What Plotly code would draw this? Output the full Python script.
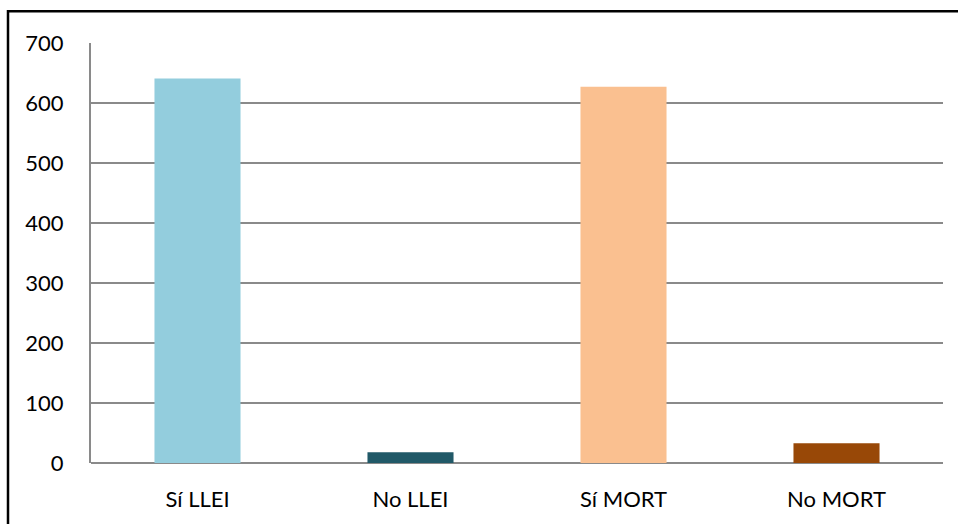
import plotly.graph_objects as go

categories = ["Sí LLEI", "No LLEI", "Sí MORT", "No MORT"]
values = [641, 18, 627, 33]
colors = ["#93CDDD", "#215968", "#FAC090", "#984807"]

y_ticks = [0, 100, 200, 300, 400, 500, 600, 700]

fig = go.Figure(
    go.Bar(
        x=categories,
        y=values,
        marker=dict(color=colors, line=dict(width=0)),
        width=0.404,
        hoverinfo="x+y",
    )
)

grid_color = "#8a8a8a"
font = dict(family="Lato, Open Sans, sans-serif", size=22, color="#000000")

fig.update_layout(
    width=958,
    height=524,
    margin=dict(l=91, r=15, t=43, b=59),
    paper_bgcolor="white",
    plot_bgcolor="white",
    showlegend=False,
    font=font,
    bargap=0.596,
    xaxis=dict(
        showgrid=False,
        showline=False,
        zeroline=False,
        ticks="outside",
        ticklen=17,
        tickcolor="rgba(0,0,0,0)",
        tickfont=font,
        fixedrange=True,
    ),
    yaxis=dict(
        range=[0, 700],
        tickvals=y_ticks,
        ticktext=[str(v) for v in y_ticks],
        showgrid=True,
        gridcolor=grid_color,
        gridwidth=2,
        zeroline=True,
        zerolinecolor=grid_color,
        zerolinewidth=2,
        showline=True,
        linecolor=grid_color,
        linewidth=2,
        ticks="",
        ticklabelstandoff=21,
        tickfont=font,
        fixedrange=True,
    ),
)

# Outer frame around the chart area
fig.add_shape(
    type="rect",
    xref="paper",
    yref="paper",
    x0=(8 - 91) / 852,
    x1=1.2,
    y0=-0.5,
    y1=(465 - 11) / 422,
    line=dict(color="#000000", width=2.5),
    fillcolor="rgba(0,0,0,0)",
    layer="above",
)

fig.write_html("out.html")
